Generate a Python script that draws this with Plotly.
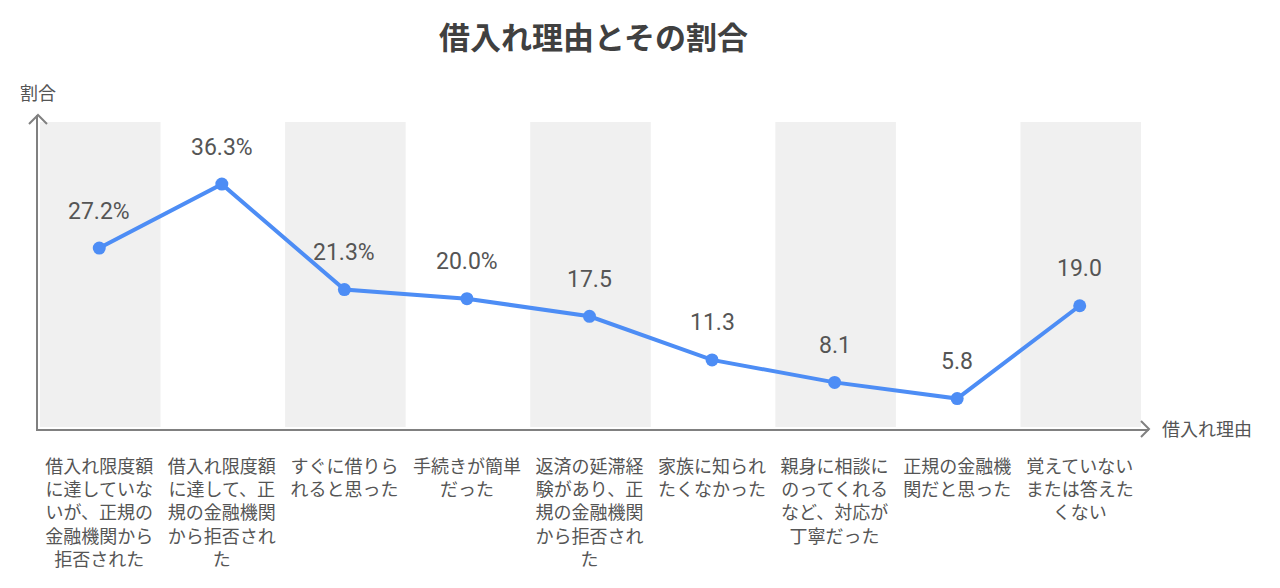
import plotly.graph_objects as go

title = "借入れ理由とその割合"
x_title = "借入れ理由"
y_title = "割合"

categories = [
    "借入れ限度額<br>に達していな<br>いが、正規の<br>金融機関から<br>拒否された",
    "借入れ限度額<br>に達して、正<br>規の金融機関<br>から拒否され<br>た",
    "すぐに借りら<br>れると思った",
    "手続きが簡単<br>だった",
    "返済の延滞経<br>験があり、正<br>規の金融機関<br>から拒否され<br>た",
    "家族に知られ<br>たくなかった",
    "親身に相談に<br>のってくれる<br>など、対応が<br>丁寧だった",
    "正規の金融機<br>関だと思った",
    "覚えていない<br>または答えた<br>くない",
]
values = [27.2, 36.3, 21.3, 20.0, 17.5, 11.3, 8.1, 5.8, 19.0]
value_labels = ["27.2%", "36.3%", "21.3%", "20.0%", "17.5", "11.3", "8.1", "5.8", "19.0"]

W, H = 1280, 588
ML, MR, MT, MB = 38, 131, 115, 159
PW, PH = W - ML - MR, H - MT - MB

FONT = "Roboto, 'Noto Sans CJK JP', sans-serif"
AXIS_COLOR = "#808080"
TEXT_COLOR = "#555555"
LINE_COLOR = "#4d8df5"
BAND_COLOR = "#f0f0f0"

idx = list(range(len(categories)))

fig = go.Figure()
fig.add_trace(go.Scatter(
    x=idx, y=values, mode="lines+markers",
    line=dict(color=LINE_COLOR, width=4),
    marker=dict(color=LINE_COLOR, size=13),
    hoverinfo="skip", showlegend=False,
))

shapes = []
band_top = 1 - 7 / PH
for i in idx:
    if i % 2 == 0:
        shapes.append(dict(type="rect", xref="x", yref="paper",
                           x0=i - 0.5 + 2 / 122.56, x1=i + 0.5, y0=2 / PH, y1=band_top,
                           fillcolor=BAND_COLOR, line=dict(width=0), layer="below"))

# axis arrow chevrons
ax_line = dict(color=AXIS_COLOR, width=2)
shapes.append(dict(type="path", xref="paper", yref="paper",
                   path=f"M {-9/PW},{1-9/PH} L 0,1 L {9/PW},{1-9/PH}",
                   line=ax_line))
shapes.append(dict(type="path", xref="paper", yref="paper",
                   path=f"M {1-8/PW},{8/PH} L 1,0 L {1-8/PW},{-8/PH}",
                   line=ax_line))

annotations = []
for i, v, t in zip(idx, values, value_labels):
    annotations.append(dict(x=i, y=v, text=t, showarrow=False, yshift=37,
                            font=dict(size=23, color=TEXT_COLOR, family=FONT)))
annotations.append(dict(xref="paper", yref="paper", x=0, y=1, text=y_title,
                        showarrow=False, yshift=22, xanchor="center", yanchor="middle",
                        font=dict(size=18, color=TEXT_COLOR, family=FONT)))
annotations.append(dict(xref="paper", yref="paper", x=1, y=0, text=x_title,
                        showarrow=False, xshift=11, xanchor="left", yanchor="middle",
                        font=dict(size=18, color=TEXT_COLOR, family=FONT)))

fig.update_layout(
    width=W, height=H,
    margin=dict(l=ML, r=MR, t=MT, b=MB),
    paper_bgcolor="white", plot_bgcolor="white",
    title=dict(text=f"<b>{title}</b>", x=0.5, xref="paper", xanchor="center",
               y=1 - 38 / H, yref="container", yanchor="middle",
               font=dict(size=31, color="#404040", family=FONT)),
    shapes=shapes, annotations=annotations,
    xaxis=dict(range=[-0.5, 8.5 + 8 / 122.56], tickmode="array", tickvals=idx,
               ticktext=categories, showgrid=False, zeroline=False,
               showline=True, linecolor=AXIS_COLOR, linewidth=2,
               ticks="outside", ticklen=20, tickcolor="rgba(0,0,0,0)",
               tickfont=dict(size=18, color=TEXT_COLOR, family=FONT),
               tickangle=0, fixedrange=True),
    yaxis=dict(range=[1.47, 46.13], showgrid=False, zeroline=False,
               showticklabels=False, showline=True, linecolor=AXIS_COLOR,
               linewidth=2, fixedrange=True),
    font=dict(family=FONT, color=TEXT_COLOR),
)

fig.write_html("out.html", config={"displayModeBar": False},
               post_script="document.body.style.margin='0';document.body.style.overflow='hidden';")
